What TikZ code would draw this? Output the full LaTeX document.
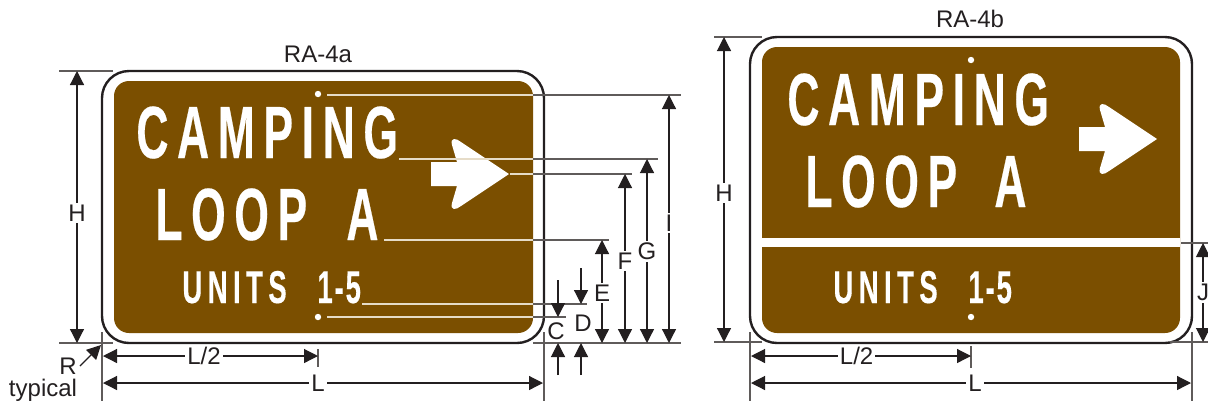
\documentclass[tikz,border=0pt]{standalone}
\usepackage{fontspec}
\setmainfont{Liberation Sans}
\newfontfamily\signfont[FakeStretch=0.6,LetterSpace=11.7,FakeBold=0.3]{Liberation Sans}
\newfontfamily\signdigits[FakeStretch=0.6,LetterSpace=4,FakeBold=0.3]{Liberation Sans}
\usetikzlibrary{arrows.meta}
\definecolor{signbrown}{HTML}{7B4F00}
\definecolor{dimblack}{HTML}{231F20}
\definecolor{dimgray}{HTML}{5F5B5A}
\definecolor{signcream}{HTML}{E6DCC8}
\tikzset{
     plate/.style = { draw=dimblack, line width=1.2pt, fill=white, rounded corners=13.5pt },
     panel/.style = { fill=signbrown, rounded corners=7.5pt },
     dimarrow/.style = { color=dimblack, line width=0.6pt, {Triangle[length=7pt,width=7pt]}-{Triangle[length=7pt,width=7pt]} },
     downarrow/.style = { color=dimblack, line width=0.6pt, -{Triangle[length=7pt,width=7pt]} },
     witness/.style = { color=dimgray, line width=0.6pt },
     inpanel/.style = { color=signcream, line width=0.6pt },
     dimlabel/.style = { font=\fontsize{12}{13}\selectfont, text=dimblack, fill=white, inner sep=1pt },
     bigtext/.style = { font=\signfont\bfseries\fontsize{37}{37}\selectfont, text=white, anchor=base west, inner sep=0pt },
     smalltext/.style = { font=\signfont\bfseries\fontsize{23}{23}\selectfont, text=white, anchor=base west, inner sep=0pt },
     smalldigits/.style = { font=\signdigits\bfseries\fontsize{23}{23}\selectfont, text=white, anchor=base west, inner sep=0pt },
     signdot/.style = { circle, fill=white, inner sep=0pt, minimum size=3.2pt }
}
\tikzset{
  signarrow/.pic={
    \fill [white] (-78,-12) -- (-52,-12) -- (-57,-29) .. controls (-59,-37) and (-53,-36) .. (-48,-32) -- (0,0)
        -- (-48,32) .. controls (-53,36) and (-59,37) .. (-57,29) -- (-52,12) -- (-78,12) -- cycle;
  }
}
\begin{document}
\begin{tikzpicture}[x=0.5pt,y=-0.5pt]
  \useasboundingbox (0,0) rectangle (1208,403);

  % RA-4a
  \draw [plate] (102,71) rectangle (544,343);
  \fill [panel] (114,81) rectangle (533,333);
  \node [bigtext] (camping a) at (136,158) {CAMPING};
  \node [bigtext] (loop a) at (155,240) {LOOP};
  \node [bigtext] (letter a) at (346,240) {A};
  \node [smalltext] (units a) at (182,303) {UNITS};
  \node [smalldigits] (range a) at (317,303) {1-5};
  \node [signdot] (top a) at (318,94) {};
  \node [signdot] (bot a) at (318,317) {};
  \pic at (509,174) {signarrow};
  \node [dimlabel,fill=none] (title a) at (318,54) {RA-4a};

  \foreach \nm/\x/\y/\xa/\xb in {i/327/95/533/681,g/399/159/533/658,f/510/174/533/632,e/384/240/533/609,d/362/304/533/587,c/327/317/533/566} {
    \coordinate (\nm s) at (\x,\y);
    \coordinate (\nm m) at (\xa,\y);
    \coordinate (\nm e) at (\xb,\y);
    \draw [inpanel] (\nm s) -- (\nm m);
    \draw [witness] (\nm m) -- (\nm e);
  }
  \coordinate (base s) at (533,343);
  \coordinate (base e) at (681,343);
  \draw [witness] (base s) -- (base e);

  \foreach \nm/\lab/\x/\ly in {i/I/669/223,g/G/647/251,f/F/625/261,e/E/602/293} {
    \coordinate (\nm t) at (\x,\ly);
    \draw [dimarrow] (\x,343) -- (\nm t |- \nm e);
    \node [dimlabel] (\nm lab) at (\nm t) {\lab};
  }
  \foreach \nm/\lab/\x/\lx/\ly/\yt in {d/D/581/583/323/268,c/C/558/556/331/280} {
    \coordinate (\nm top) at (\x,\yt);
    \coordinate (\nm bot) at (\x,375);
    \draw [downarrow] (\nm top) -- (\nm top |- \nm e);
    \draw [downarrow] (\nm bot) -- (\nm bot |- base e);
    \node [dimlabel,fill=none] (\nm lab) at (\lx,\ly) {\lab};
  }

  \coordinate (ha) at (77,71);
  \coordinate (hb) at (77,343);
  \draw [witness] (59,71) -- (113,71);
  \draw [witness] (59,343) -- (113,343);
  \draw [dimarrow] (ha) -- node [dimlabel,pos=.522] (h lab) {H} (hb);

  \coordinate (rs) at (80,366);
  \coordinate (re) at (101,345);
  \draw [downarrow] (rs) -- (re);
  \node [dimlabel,fill=none] (r lab) at (68,366) {R};
  \node [dimlabel,fill=none] (typ lab) at (43,390) {typical};

  \coordinate (l1) at (102,332);
  \coordinate (l2) at (102,401);
  \coordinate (l3) at (544,332);
  \coordinate (l4) at (544,401);
  \draw [witness] (l1) -- (l2);
  \draw [witness] (l3) -- (l4);
  \draw [witness] (318,349) -- (318,367);
  \draw [dimarrow] (103,356) -- node [dimlabel,pos=.47] (half a) {L/2} (318,356);
  \draw [dimarrow] (103,383) -- node [dimlabel,pos=.489] (full a) {L} (543,383);

  % RA-4b
  \draw [plate] (750,37) rectangle (1192,343);
  \fill [panel] (762,47) rectangle (1180,333);
  \fill [white] (762,238) rectangle (1180,247);
  \node [bigtext] (camping b) at (787,125) {CAMPING};
  \node [bigtext] (loop b) at (805,207) {LOOP};
  \node [bigtext] (letter b) at (994,207) {A};
  \node [smalltext] (units b) at (833,303) {UNITS};
  \node [smalldigits] (range b) at (968,303) {1-5};
  \node [signdot] (top b) at (971,60) {};
  \node [signdot] (bot b) at (971,317) {};
  \pic at (1157,139) {signarrow};
  \node [dimlabel,fill=none] (title b) at (970,19) {RA-4b};

  \coordinate (hc) at (724,37);
  \coordinate (hd) at (724,342);
  \draw [witness] (714,37) -- (762,37);
  \draw [witness] (714,342) -- (762,342);
  \draw [dimarrow] (hc) -- node [dimlabel,pos=.511] (h lab b) {H} (hd);

  \coordinate (l5) at (750,332);
  \coordinate (l6) at (750,401);
  \coordinate (l7) at (1192,332);
  \coordinate (l8) at (1192,401);
  \draw [witness] (l5) -- (l6);
  \draw [witness] (l7) -- (l8);
  \draw [witness] (971,346) -- (971,368);
  \draw [dimarrow] (751,356) -- node [dimlabel,pos=.48] (half b) {L/2} (971,356);
  \draw [dimarrow] (751,383) -- node [dimlabel,pos=.509] (full b) {L} (1191,383);

  \draw [witness] (1181,243) -- (1208,243);
  \draw [witness] (1170,342) -- (1208,342);
  \coordinate (ja) at (1203,243);
  \coordinate (jb) at (1203,342);
  \draw [dimarrow] (ja) -- node [dimlabel] (j lab) {J} (jb);
\end{tikzpicture}
\end{document}
